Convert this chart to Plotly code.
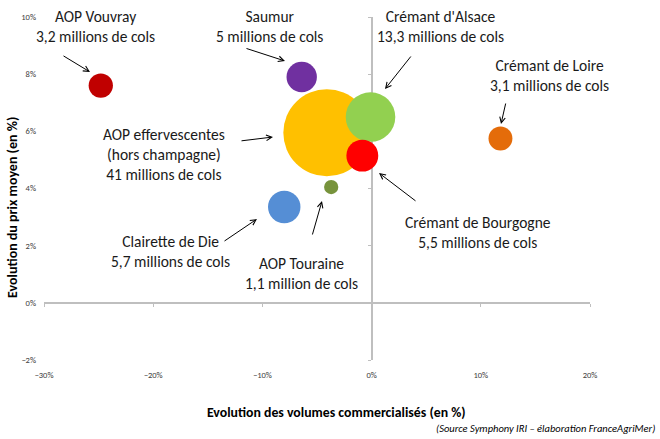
import plotly.graph_objects as go

# ---------------- data ----------------
names = ["AOP effervescentes (hors champagne)", "Crémant d'Alsace", "Crémant de Bourgogne",
         "AOP Touraine", "Saumur", "AOP Vouvray", "Crémant de Loire", "Clairette de Die"]
vol_change = [-4.1, -0.1, -0.85, -3.7, -6.4, -24.8, 11.8, -8.0]      # % evolution of volumes
price_change = [5.95, 6.5, 5.15, 4.05, 7.9, 7.6, 5.75, 3.35]         # % evolution of average price
volumes = [41, 13.3, 5.5, 1.1, 5, 3.2, 3.1, 5.7]                     # millions de cols
colors = ["#FFC000", "#92D050", "#FF0000", "#77933C", "#7030A0", "#C00000", "#E46C0A", "#558ED5"]

labels = [
    "AOP effervescentes<br>(hors champagne)<br>41 millions de cols",
    "Crémant d'Alsace<br>13,3 millions de cols",
    "Crémant de Bourgogne<br>5,5 millions de cols",
    "AOP Touraine<br>1,1 million de cols",
    "Saumur<br>5 millions de cols",
    "AOP Vouvray<br>3,2 millions de cols",
    "Crémant de Loire<br>3,1 millions de cols",
    "Clairette de Die<br>5,7 millions de cols",
]

x_range = [-30, 20]
y_range = [-2, 10]

# ---------------- layout helpers (pixel -> data) ----------------
W, H = 660, 439
ML, MR, MT, MB = 44, 70, 17, 79
PW, PH = W - ML - MR, H - MT - MB


def dx(px):
    return x_range[0] + (px - ML) / PW * (x_range[1] - x_range[0])


def dy(py):
    return y_range[1] - (py - MT) / PH * (y_range[1] - y_range[0])


def paper_x(px):
    return (px - ML) / PW


def paper_y(py):
    return (H - MB - py) / PH


FONT = "Carlito, Calibri, Lato, sans-serif"

# label placements (pixel centres) and arrow (tail, head) in pixels
label_pos = [(164, 154), (440, 26), (478, 232), (301, 273), (269, 26), (95, 26), (549, 75), (170, 251)]
arrows = [((240, 141), (273, 137)),
          ((412, 55), (385, 89)),
          ((417, 202), (379, 173)),
          ((312, 236), (322, 201)),
          ((245, 48), (285, 61)),
          ((62, 55), (90, 72)),
          ((506, 102), (501, 124)),
          ((223, 242), (257, 219))]

fig = go.Figure()
# invisible trace so the label axes (x / y) exist
fig.add_trace(go.Scatter(x=[None], y=[None], mode="markers", showlegend=False, hoverinfo="skip"))
# bubbles on the crossing axes (x2 / y2)
fig.add_trace(go.Scatter(
    x=vol_change, y=price_change, mode="markers", xaxis="x2", yaxis="y2",
    marker=dict(size=volumes, sizemode="area", sizeref=2 * max(volumes) / (87 ** 2),
                color=colors, opacity=1, line=dict(width=0)),
    text=names, hoverinfo="text", showlegend=False,
))

annotations = []
for lab, (px, py) in zip(labels, label_pos):
    annotations.append(dict(x=dx(px), y=dy(py), xref="x2", yref="y2", text=lab, showarrow=False,
                            font=dict(family=FONT, size=15.5, color="#1a1a1a"),
                            xanchor="center", yanchor="middle", align="center"))
for (tail, head) in arrows:
    annotations.append(dict(x=dx(head[0]), y=dy(head[1]), ax=dx(tail[0]), ay=dy(tail[1]),
                            xref="x2", yref="y2", axref="x2", ayref="y2", text="",
                            showarrow=True, arrowhead=5, arrowsize=1.1, arrowwidth=1,
                            arrowcolor="#000000", standoff=0, startstandoff=0))

annotations.append(dict(x=paper_x(13), y=paper_y(208), xref="paper", yref="paper",
                        text="<b>Evolution du prix moyen (en %)</b>", textangle=-90,
                        showarrow=False, font=dict(family=FONT, size=14, color="#000"),
                        xanchor="center", yanchor="middle"))
annotations.append(dict(x=paper_x(336), y=paper_y(412), xref="paper", yref="paper",
                        text="<b>Evolution des volumes commercialisés (en %)</b>",
                        showarrow=False, font=dict(family=FONT, size=13.8, color="#000"),
                        xanchor="center", yanchor="middle"))
annotations.append(dict(x=paper_x(657), y=paper_y(428), xref="paper", yref="paper",
                        text="<i>(Source Symphony IRI – élaboration FranceAgriMer)</i>",
                        showarrow=False, font=dict(family=FONT, size=10.5, color="#000"),
                        xanchor="right", yanchor="middle"))

axis_line = "#BFBFBF"
tickfont = dict(family=FONT, size=8.5, color="#404040")
fig.update_layout(
    width=W, height=H,
    margin=dict(l=ML, r=MR, t=MT, b=MB, pad=0, autoexpand=False),
    paper_bgcolor="white", plot_bgcolor="white",
    font=dict(family=FONT),
    xaxis=dict(range=x_range, dtick=10, ticksuffix="%", showgrid=False, zeroline=False,
               showline=False, ticks="", tickfont=tickfont, automargin=False,
               ticklabelstandoff=8, fixedrange=True),
    yaxis=dict(range=y_range, dtick=2, ticksuffix="%", showgrid=False, zeroline=False,
               showline=False, ticks="", tickfont=tickfont, automargin=False,
               ticklabelstandoff=7, fixedrange=True),
    xaxis2=dict(range=x_range, dtick=10, overlaying="x", anchor="free",
                position=(0 - y_range[0]) / (y_range[1] - y_range[0]),
                showline=True, linecolor=axis_line, linewidth=1.5, ticks="outside",
                ticklen=3, tickcolor=axis_line, tickwidth=1, showticklabels=False,
                showgrid=False, zeroline=False, automargin=False),
    yaxis2=dict(range=y_range, dtick=2, overlaying="y", anchor="free",
                position=(0 - x_range[0]) / (x_range[1] - x_range[0]),
                showline=True, linecolor=axis_line, linewidth=1.5, ticks="outside",
                ticklen=3, tickcolor=axis_line, tickwidth=1, showticklabels=False,
                showgrid=False, zeroline=False, layer="below traces", automargin=False),
    annotations=annotations,
)

fig.write_html("out.html", config={"displayModeBar": False},
               post_script="document.body.style.margin='0px';document.body.style.padding='0px';")
